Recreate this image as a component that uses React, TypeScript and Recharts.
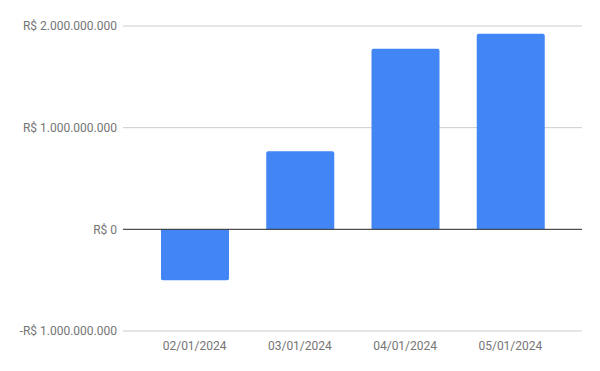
import { BarChart, Bar, XAxis, YAxis, CartesianGrid, ReferenceLine } from 'recharts';

const dates = ['02/01/2024', '03/01/2024', '04/01/2024', '05/01/2024'];
const amounts = [-500000000, 768000000, 1777000000, 1924000000];
const yTicks = [-1000000000, 0, 1000000000, 2000000000];

const data = dates.map((d, i) => ({ date: d, amount: amounts[i] }));

const formatBRL = (v: number) => {
  const s = Math.abs(v).toString().replace(/\B(?=(\d{3})+(?!\d))/g, '.');
  return (v < 0 ? '-R$ ' : 'R$ ') + s;
};

const tickStyle = { fill: '#757575', fontSize: 12, fontFamily: 'Roboto' };

export default function App() {
  return (
    <div style={{ position: 'absolute', left: 0, top: 0, background: '#fff' }}>
      <BarChart width={600} height={371} data={data} margin={{ top: 26, right: 18, bottom: 10, left: 0 }}>
        <CartesianGrid horizontal vertical={false} stroke="#cccccc" />
        <XAxis
          dataKey="date"
          axisLine={false}
          tickLine={false}
          tick={tickStyle}
          tickMargin={4}
          height={30}
          padding={{ left: 19, right: 19 }}
        />
        <YAxis
          domain={[-1000000000, 2000000000]}
          ticks={yTicks}
          tickFormatter={formatBRL}
          axisLine={false}
          tickLine={false}
          tick={tickStyle}
          tickMargin={0}
          width={123}
          interval={0}
        />
        <ReferenceLine y={0} stroke="#333333" strokeWidth={1} />
        <Bar dataKey="amount" fill="#4285f4" barSize={68} radius={[2, 2, 0, 0]} isAnimationActive={false} />
      </BarChart>
    </div>
  );
}
